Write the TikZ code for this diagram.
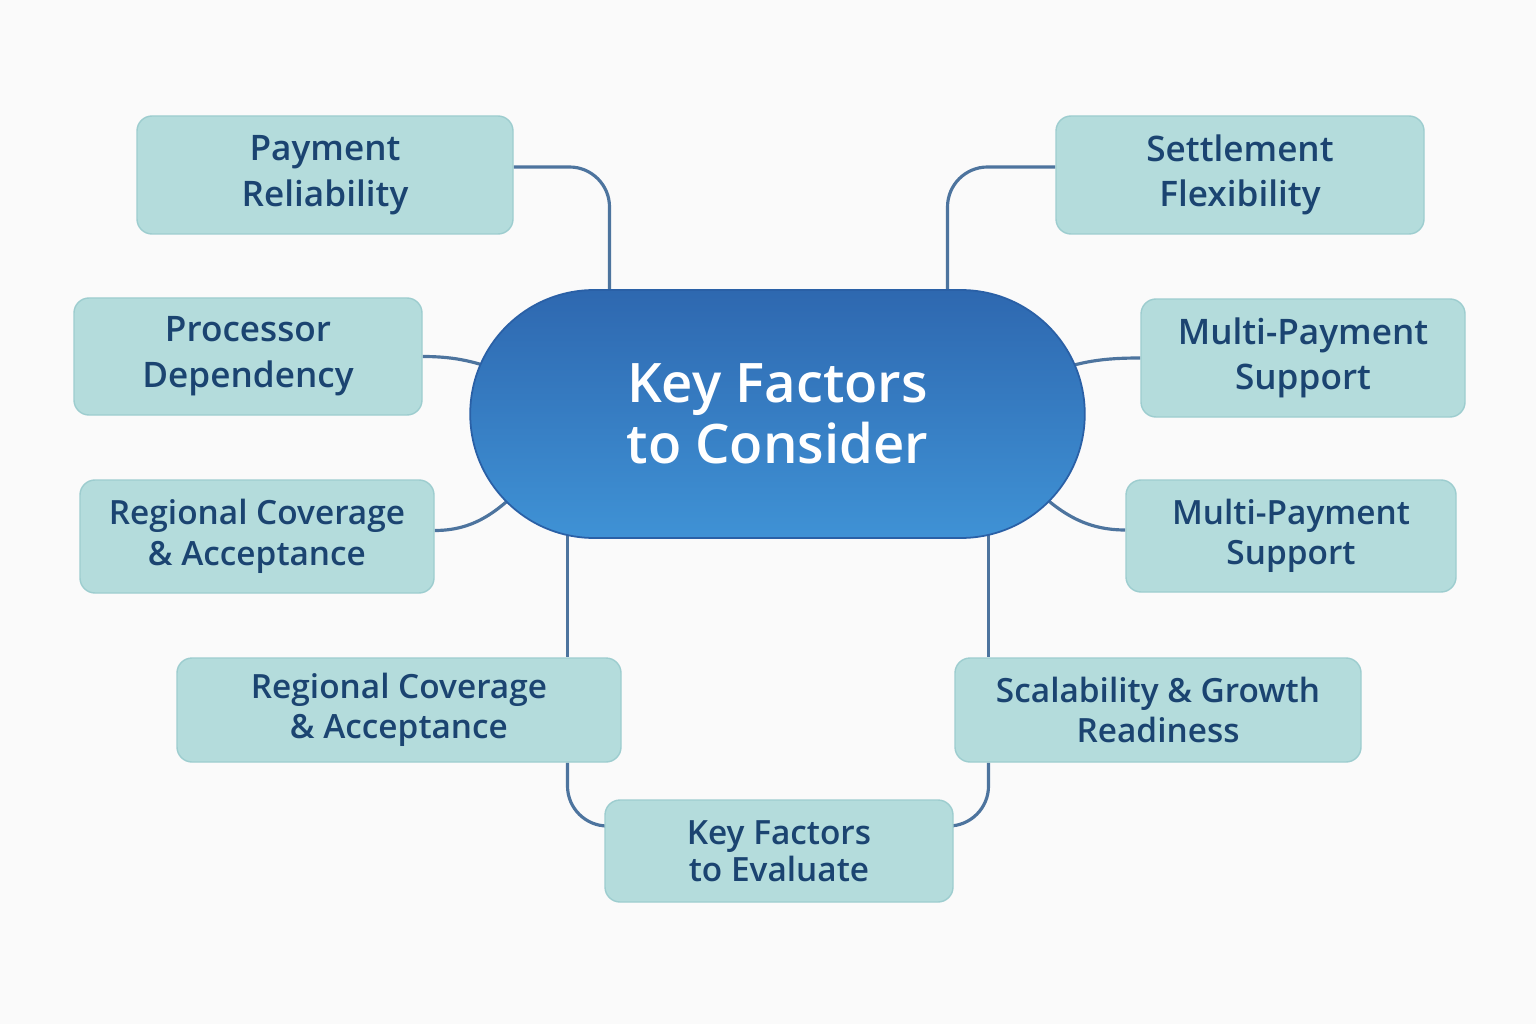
\documentclass[tikz,border=0pt]{standalone}
\usepackage{fontspec}
\setmainfont{Open Sans}[BoldFont={Open Sans Semibold}]
\usepackage{tikz}
\usetikzlibrary{shapes.misc,calc,backgrounds}
\definecolor{KFTeal}{HTML}{B4DCDC}
\definecolor{KFTealLine}{HTML}{9DCDCF}
\definecolor{KFNavy}{HTML}{1B4471}
\definecolor{KFLink}{HTML}{4D749E}
\definecolor{KFBlueTop}{HTML}{2E68B0}
\definecolor{KFBlueBot}{HTML}{3F92D5}
\definecolor{KFBlueEdge}{HTML}{2A60A6}
\definecolor{KFPaper}{HTML}{FAFAFA}
\pgfdeclarelayer{paper}
\pgfsetlayers{paper,background,main}

\begin{document}
\begin{tikzpicture}[x=1cm,y=1cm,
  factor/.style={draw=KFTealLine,line width=0.4pt,fill=KFTeal,rounded corners=0.15cm,text=KFNavy,align=center,inner sep=0pt,font=\fontsize{10}{13}\selectfont\bfseries},
  link/.style={draw=KFLink,line width=0.9pt,rounded corners=0.4cm}]
\begin{pgfonlayer}{paper}
\fill[KFPaper] (0,0) rectangle (15.36,10.24);
\end{pgfonlayer}
\path[use as bounding box] (0,0) rectangle (15.36,10.24);

% centre
\node[rounded rectangle,draw=KFBlueEdge,line width=0.5pt,top color=KFBlueTop,bottom color=KFBlueBot,minimum width=6.38cm,minimum height=2.48cm,text=white,align=center,font=\fontsize{15.5}{17.5}\selectfont\bfseries] (key) at (7.775,6.10) {Key Factors\\to Consider};

% factors
\node[factor,minimum width=3.76cm,minimum height=1.18cm] (pr) at (3.25,8.49) {Payment\\Reliability};
\node[factor,minimum width=3.68cm,minimum height=1.18cm] (sf) at (12.40,8.49) {Settlement\\Flexibility};
\node[factor,minimum width=3.48cm,minimum height=1.17cm] (pd) at (2.48,6.675) {Processor\\Dependency};
\node[factor,minimum width=3.24cm,minimum height=1.18cm] (mp1) at (13.03,6.66) {Multi-Payment\\Support};
\node[factor,minimum width=3.54cm,minimum height=1.13cm,font=\fontsize{9.5}{11.5}\selectfont\bfseries] (rc1) at (2.57,4.875) {Regional Coverage\\\& Acceptance};
\node[factor,minimum width=3.30cm,minimum height=1.12cm,font=\fontsize{9.5}{11.5}\selectfont\bfseries] (mp2) at (12.91,4.88) {Multi-Payment\\Support};
\node[factor,minimum width=4.44cm,minimum height=1.04cm,font=\fontsize{9.5}{11.5}\selectfont\bfseries] (rc2) at (3.99,3.14) {Regional Coverage\\\& Acceptance};
\node[factor,minimum width=4.06cm,minimum height=1.04cm,font=\fontsize{9.5}{11.5}\selectfont\bfseries] (sg) at (11.58,3.14) {Scalability \& Growth\\Readiness};
\node[factor,minimum width=3.48cm,minimum height=1.02cm,font=\fontsize{9.5}{10.5}\selectfont\bfseries] (ke) at (7.79,1.73) {Key Factors\\to Evaluate};

% links
\begin{pgfonlayer}{background}
\draw[link] ([yshift=0.08cm]pr.east) -| ($(key.north)+(-1.68,0)$);
\draw[link] ([yshift=0.08cm]sf.west) -| ($(key.north)+(1.70,0)$);
\draw[link] (pd.east) to[out=0,in=160] ($(key.west)+(0.4,0.40)$);
\draw[link] (mp1.west) to[out=180,in=20] ($(key.east)+(-0.4,0.40)$);
\draw[link] ([yshift=0.06cm]rc1.east) to[out=0,in=-135] ($(key.west)+(0.7,-0.56)$);
\draw[link] ([yshift=0.06cm]mp2.west) to[out=180,in=-45] ($(key.east)+(-0.7,-0.56)$);
\coordinate (kl) at ($(key.south)+(-2.10,0.1)$);
\coordinate (kr) at ($(key.south)+(2.11,0.1)$);
\draw[link] (kl) -- (kl |- rc2.north);
\draw[link] (kl |- rc2.south) |- ([yshift=0.25cm]ke.west);
\draw[link] (kr) -- (kr |- sg.north);
\draw[link] (kr |- sg.south) |- ([yshift=0.25cm]ke.east);
\end{pgfonlayer}
\end{tikzpicture}
\end{document}
